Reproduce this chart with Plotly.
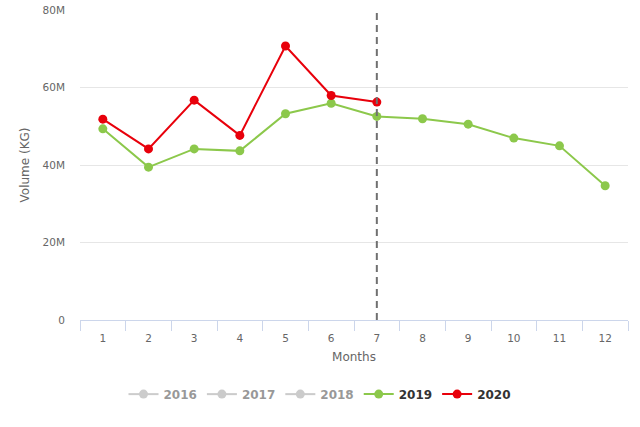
import plotly.graph_objects as go

months = [str(m) for m in range(1, 13)]

# valores (kg)
vol_2019 = [49.4e6, 39.5e6, 44.2e6, 43.7e6, 53.3e6, 56.0e6, 52.6e6, 52.0e6, 50.6e6, 47.0e6, 45.0e6, 34.7e6]
vol_2020 = [51.9e6, 44.2e6, 56.8e6, 47.7e6, 70.8e6, 58.0e6, 56.3e6]
hidden_years = ['2016', '2017', '2018']

y_ticks = [0, 20e6, 40e6, 60e6, 80e6]
y_labels = ['0', '20M', '40M', '60M', '80M']
current_month = '7'

fig = go.Figure()

# séries escondidas (só aparecem na legenda, sem valores visíveis)
# cor mais escura porque o plotly aplica opacidade 0.5 nos itens escondidos
for yr in hidden_years:
    fig.add_trace(go.Scatter(x=months, y=[None] * len(months), name=yr, mode='lines+markers',
                             line=dict(color='#999999', width=2),
                             marker=dict(size=9, color='#999999'),
                             visible='legendonly'))

fig.add_trace(go.Scatter(x=months, y=vol_2019, name='2019', mode='lines+markers',
                         line=dict(color='#8cc84b', width=2),
                         marker=dict(size=9, color='#8cc84b')))
fig.add_trace(go.Scatter(x=months[:len(vol_2020)], y=vol_2020, name='2020', mode='lines+markers',
                         line=dict(color='#e8000b', width=2),
                         marker=dict(size=9, color='#e8000b')))

# linha do mês atual
idx = months.index(current_month)
fig.add_shape(type='line', xref='x', yref='paper', x0=idx, x1=idx, y0=0, y1=1,
              line=dict(color='#707070', width=2, dash='7px,5px'))

fig.update_layout(
    width=640, height=427,
    margin=dict(l=80, r=12, t=10, b=107),
    plot_bgcolor='white', paper_bgcolor='white',
    font=dict(family='DejaVu Sans', size=11, color='#666666'),
    showlegend=True,
    legend=dict(orientation='h', xref='container', yref='container', x=0.5, xanchor='center',
                y=0.077, yanchor='middle', font=dict(size=12, color='#333333', weight='bold'),
                itemwidth=30),
)
fig.update_xaxes(type='category', categoryorder='array', categoryarray=months, automargin=False,
                 title_text='Months', title_font=dict(size=12, color='#666666'), title_standoff=10,
                 tickfont=dict(size=10.5), ticklabelstandoff=8,
                 showline=True, linecolor='#ccd6eb', linewidth=1,
                 ticks='outside', tickson='boundaries', ticklen=10, tickcolor='#ccd6eb',
                 showgrid=False, range=[-0.5, 11.5])
fig.update_yaxes(title_text='Volume (KG)', title_font=dict(size=12, color='#666666'), title_standoff=10,
                 tickfont=dict(size=10.5), automargin=False,
                 tickvals=y_ticks, ticktext=y_labels, range=[0, 80.1e6],
                 gridcolor='#e6e6e6', gridwidth=1, zeroline=False, showline=False, ticklabelstandoff=14)

# tira a margem padrão da página para o gráfico ficar no canto
fig.write_html('out.html', config={'displayModeBar': False},
               post_script="document.body.style.margin='0';")
